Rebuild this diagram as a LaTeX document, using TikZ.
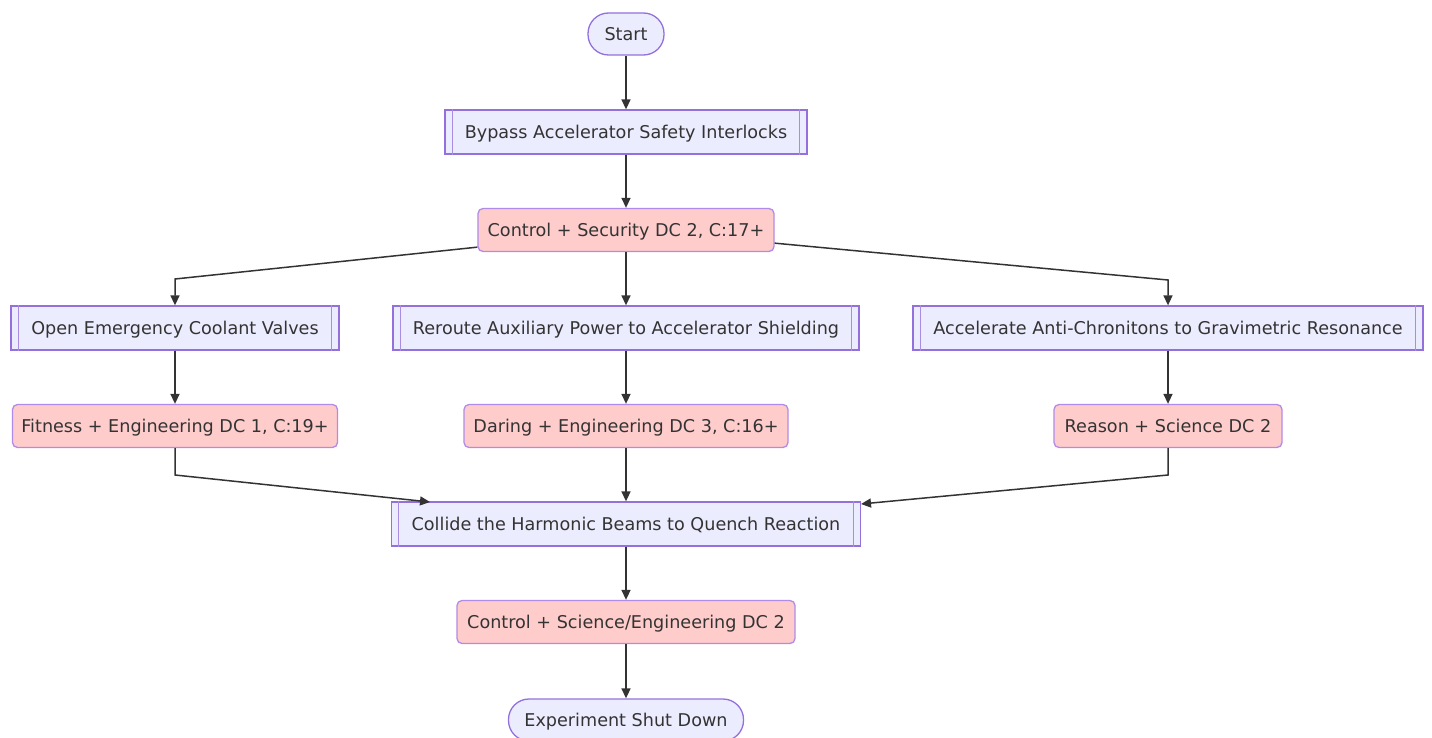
\documentclass[tikz,border=0pt]{standalone}
\usepackage{fontspec}
\setmainfont{DejaVu Sans}
\usetikzlibrary{arrows.meta,calc}
\definecolor{bfill}{HTML}{ECECFF}
\definecolor{bstroke}{HTML}{9370DB}
\definecolor{pfill}{HTML}{FFCCCC}
\definecolor{pstroke}{HTML}{B08BE8}
\definecolor{txt}{HTML}{333333}
\definecolor{edge}{HTML}{333333}
\tikzset{
  base/.style={font=\fontsize{17.6}{21}\selectfont, text=txt, inner sep=0pt, line width=1.3pt, align=center, text height=14pt, text depth=1.2pt},
  term/.style={base, draw=bstroke, fill=bfill, rounded corners=20.5pt, minimum height=42pt},
  sub/.style={base, draw=bstroke, fill=bfill, minimum height=44pt},
  check/.style={base, draw=pstroke, fill=pfill, rounded corners=5pt, minimum height=43pt},
  arr/.style={draw=edge, line width=1.5pt, -{Triangle[length=10pt,width=9pt]}},
}
\newcommand{\subbars}[1]{\draw[bstroke!80,line width=1.2pt] ([xshift=8pt]#1.north west) -- ([xshift=8pt]#1.south west) ([xshift=-8pt]#1.north east) -- ([xshift=-8pt]#1.south east);}
\begin{document}
\begin{tikzpicture}[x=1pt,y=-1pt]
\useasboundingbox (0,0) rectangle (1432,738);
\node[term, minimum width=76pt] (start) at (626,34) {Start};
\node[sub, minimum width=362pt] (bp) at (626,132) {Bypass Accelerator Safety Interlocks};
\node[check, minimum width=296pt] (c1) at (626,230) {Control + Security DC 2, C:17+};
\node[sub, minimum width=328pt] (o1) at (175,328) {Open Emergency Coolant Valves};
\node[sub, minimum width=466pt] (r1) at (626,328) {Reroute Auxiliary Power to Accelerator Shielding};
\node[sub, minimum width=510pt] (a1) at (1168,328) {Accelerate Anti-Chronitons to Gravimetric Resonance};
\node[check, minimum width=325pt] (f1) at (175,426) {Fitness + Engineering DC 1, C:19+};
\node[check, minimum width=324pt] (d1) at (626,426) {Daring + Engineering DC 3, C:16+};
\node[check, minimum width=228pt] (re1) at (1168,426) {Reason + Science DC 2};
\node[sub, minimum width=469pt] (col) at (626,524) {Collide the Harmonic Beams to Quench Reaction};
\node[check, minimum width=338pt] (c2) at (626,622) {Control + Science/Engineering DC 2};
\node[term, minimum width=235pt] (end) at (626,720) {Experiment Shut Down};
\subbars{bp}\subbars{o1}\subbars{r1}\subbars{a1}\subbars{col}
\coordinate (k1) at (175,279);
\coordinate (k2) at (1168,280);
\coordinate (k3) at (175,475);
\coordinate (k4) at (1168,475);
\coordinate (e3) at (430,502);
\coordinate (e4) at (861,504);
\draw[arr] (start) -- (bp);
\draw[arr] (bp) -- (c1);
\draw[arr] ([yshift=5pt]c1.south west) -- (k1) -- (o1.north);
\draw[arr] (c1) -- (r1);
\draw[arr] ([yshift=9pt]c1.south east) -- (k2) -- (a1.north);
\draw[arr] (o1) -- (f1);
\draw[arr] (r1) -- (d1);
\draw[arr] (a1) -- (re1);
\draw[arr] (f1.south) -- (k3) -- (e3);
\draw[arr] (d1) -- (col);
\draw[arr] (re1.south) -- (k4) -- (e4);
\draw[arr] (col) -- (c2);
\draw[arr] (c2) -- (end);
\end{tikzpicture}
\end{document}
